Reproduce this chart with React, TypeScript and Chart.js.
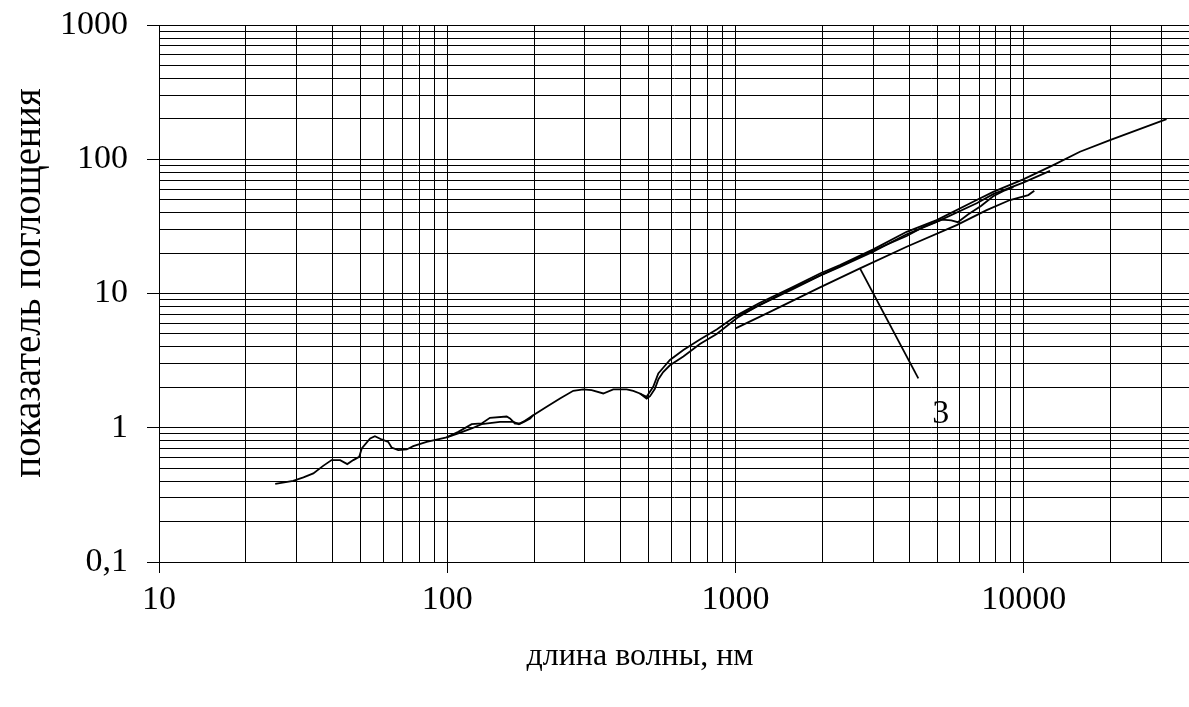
import React, { useEffect, useRef } from 'react';
import { Chart, registerables } from 'chart.js';

Chart.register(...registerables);

// ---- data ----
const mainX = [25.3, 29.2, 31.7, 34.3, 37.1, 39.7, 42.5, 45.0, 47.2, 49.5, 50.5, 54.0, 56.1, 59.2, 62.4, 64.1, 67.6, 72.3, 76.2, 84.8, 99.5, 109.2, 121.5, 131.6, 140.6, 160.7, 165.0, 171.7, 178.3, 186.0, 198.7, 221.2, 246.0, 273.5, 296.3, 316.8, 347.6, 376.5, 419.0, 441.7, 465.9, 491.5, 501.8, 518, 539.5, 561, 592, 659, 752, 860, 1014, 1210, 1585, 1963, 2302, 3003, 3922, 4984, 6861, 7831, 9952, 12650, 15650, 19890, 31260];
const mainY = [0.382, 0.402, 0.427, 0.457, 0.52, 0.574, 0.574, 0.536, 0.574, 0.607, 0.701, 0.832, 0.866, 0.818, 0.785, 0.713, 0.681, 0.689, 0.729, 0.785, 0.847, 0.932, 1.063, 1.076, 1.185, 1.213, 1.173, 1.076, 1.076, 1.126, 1.241, 1.431, 1.654, 1.884, 1.93, 1.907, 1.8, 1.93, 1.93, 1.884, 1.8, 1.7, 1.82, 2.02, 2.54, 2.8, 3.2, 3.8, 4.55, 5.4, 6.9, 8.5, 11.2, 14.1, 16.3, 21.3, 28.8, 35.2, 49.7, 57.2, 70.8, 90.5, 113.7, 139, 199];

const bumpX = [99.5, 109.2, 121.5, 131.6, 152.4, 169.4, 177.2, 184.4, 193.9, 198.7];
const bumpY = [0.847, 0.907, 0.988, 1.063, 1.107, 1.107, 1.063, 1.107, 1.173, 1.241];

const secondX = [465.9, 491.5, 505, 525, 540, 561, 592, 659, 752, 860, 1014, 1210, 1585, 1963, 2302, 3003, 3922, 4984, 6861, 7831, 9952, 12320];
const secondY = [1.8, 1.65, 1.72, 1.95, 2.3, 2.6, 2.92, 3.4, 4.2, 5.0, 6.6, 8.2, 10.8, 13.6, 15.8, 20.5, 27.6, 34.2, 47, 55, 67, 82];

const dipX = [1014, 1585, 2302, 3003, 3922, 4500, 5200, 5600, 5900, 6400, 7100, 7830, 8500, 9200];
const dipY = [6.75, 11.0, 16.0, 20.9, 26.8, 31.5, 35.5, 35.0, 34.0, 38.8, 44.8, 53, 58, 62];

const line3X = [1000, 1316, 1963, 2701, 3922, 5847, 7430, 8951, 10360, 10870];
const line3Y = [5.5, 7.3, 11.1, 15.4, 22.3, 32.3, 41.8, 49.7, 54.1, 58.3];

const pointerX = [2701, 4305];
const pointerY = [15.4, 2.33];

const curveLabel = '3';
const curveLabelX = 5150;
const curveLabelY = 1.26;

const xMajor = [10, 100, 1000, 10000];
const xMajorLabels = ['10', '100', '1000', '10000'];
const yMajor = [0.1, 1, 10, 100, 1000];
const yMajorLabels = ['0,1', '1', '10', '100', '1000'];

const X_MIN = 10;
const X_MAX = 37400;
const Y_MIN = 0.1;
const Y_MAX = 1000;

const xTitle = 'длина волны, нм';
const yTitle = 'показатель поглощения';

const FONT = '"Liberation Serif", "Times New Roman", serif';

function logTickValues(min: number, max: number): number[] {
  const out: number[] = [];
  for (let d = min; d <= max; d *= 10) {
    for (let m = 1; m <= 9; m++) {
      const v = parseFloat((m * d).toPrecision(8));
      if (v >= min && v <= max) out.push(v);
    }
  }
  return out;
}

function pts(xs: number[], ys: number[]) {
  return xs.map((x, i) => ({ x, y: ys[i] }));
}

const textPlugin = {
  id: 'texts',
  afterDraw(chart: any) {
    const ctx = chart.ctx;
    const xs = chart.scales.x;
    const ys = chart.scales.y;
    ctx.save();
    ctx.fillStyle = '#000';
    ctx.textAlign = 'center';
    ctx.textBaseline = 'middle';
    ctx.font = `34px ${FONT}`;
    ctx.fillText(curveLabel, xs.getPixelForValue(curveLabelX), ys.getPixelForValue(curveLabelY));
    ctx.font = `32px ${FONT}`;
    ctx.fillText(xTitle, 640, 657);
    ctx.translate(30, 283);
    ctx.rotate(-Math.PI / 2);
    ctx.font = `39px ${FONT}`;
    ctx.fillText(yTitle, 0, 0);
    ctx.restore();
  },
};

export default function App() {
  const ref = useRef<HTMLCanvasElement>(null);

  useEffect(() => {
    if (!ref.current) return;
    const ds = (xs: number[], ys: number[]) => ({
      data: pts(xs, ys),
      showLine: true,
      borderColor: '#000',
      backgroundColor: '#000',
      borderWidth: 1.8,
      pointRadius: 0,
      fill: false,
      tension: 0,
    });
    const xTicks = logTickValues(X_MIN, X_MAX);
    const yTicks = logTickValues(Y_MIN, Y_MAX);
    const chart = new Chart(ref.current, {
      type: 'scatter',
      data: {
        datasets: [
          ds(mainX, mainY),
          ds(bumpX, bumpY),
          ds(secondX, secondY),
          ds(dipX, dipY),
          ds(line3X, line3Y),
          ds(pointerX, pointerY),
        ],
      },
      options: {
        animation: false,
        responsive: false,
        maintainAspectRatio: false,
        layout: { padding: { top: 25, left: 0, right: 0, bottom: 0 } },
        plugins: { legend: { display: false }, tooltip: { enabled: false } },
        scales: {
          x: {
            type: 'logarithmic',
            position: 'bottom',
            min: X_MIN,
            max: X_MAX,
            afterBuildTicks: (s: any) => {
              s.ticks = xTicks.map((v) => ({ value: v }));
            },
            afterFit: (s: any) => {
              s.height = 145;
              s.paddingLeft = 0;
              s.paddingRight = 0;
              s.paddingTop = 0;
              s.paddingBottom = 0;
            },
            border: { color: '#000', width: 1 },
            grid: {
              color: '#000',
              lineWidth: 1,
              tickLength: 11,
              tickColor: (c: any) => (c.tick && xMajor.includes(c.tick.value) ? '#000' : 'rgba(0,0,0,0)'),
            },
            ticks: {
              autoSkip: false,
              maxRotation: 0,
              minRotation: 0,
              padding: 7,
              color: '#000',
              font: { family: FONT, size: 34 },
              callback: (v: any) => {
                const i = xMajor.indexOf(Number(v));
                return i >= 0 ? xMajorLabels[i] : '';
              },
            },
          },
          y: {
            type: 'logarithmic',
            position: 'left',
            min: Y_MIN,
            max: Y_MAX,
            afterBuildTicks: (s: any) => {
              s.ticks = yTicks.map((v) => ({ value: v }));
            },
            afterFit: (s: any) => {
              s.width = 159;
              s.paddingLeft = 0;
              s.paddingRight = 0;
              s.paddingTop = 0;
              s.paddingBottom = 0;
            },
            border: { color: '#000', width: 1 },
            grid: {
              color: '#000',
              lineWidth: 1,
              tickLength: 12,
              tickColor: (c: any) => (c.tick && yMajor.includes(c.tick.value) ? '#000' : 'rgba(0,0,0,0)'),
            },
            ticks: {
              autoSkip: false,
              padding: 19,
              color: '#000',
              font: { family: FONT, size: 34 },
              callback: (v: any) => {
                const i = yMajor.indexOf(Number(v));
                return i >= 0 ? yMajorLabels[i] : '';
              },
            },
          },
        },
      },
      plugins: [textPlugin],
    } as any);
    return () => chart.destroy();
  }, []);

  return (
    <div style={{ position: 'absolute', left: 0, top: 0, width: 1189, height: 707, background: '#fff' }}>
      <canvas ref={ref} width={1189} height={707} style={{ display: 'block' }} />
    </div>
  );
}
